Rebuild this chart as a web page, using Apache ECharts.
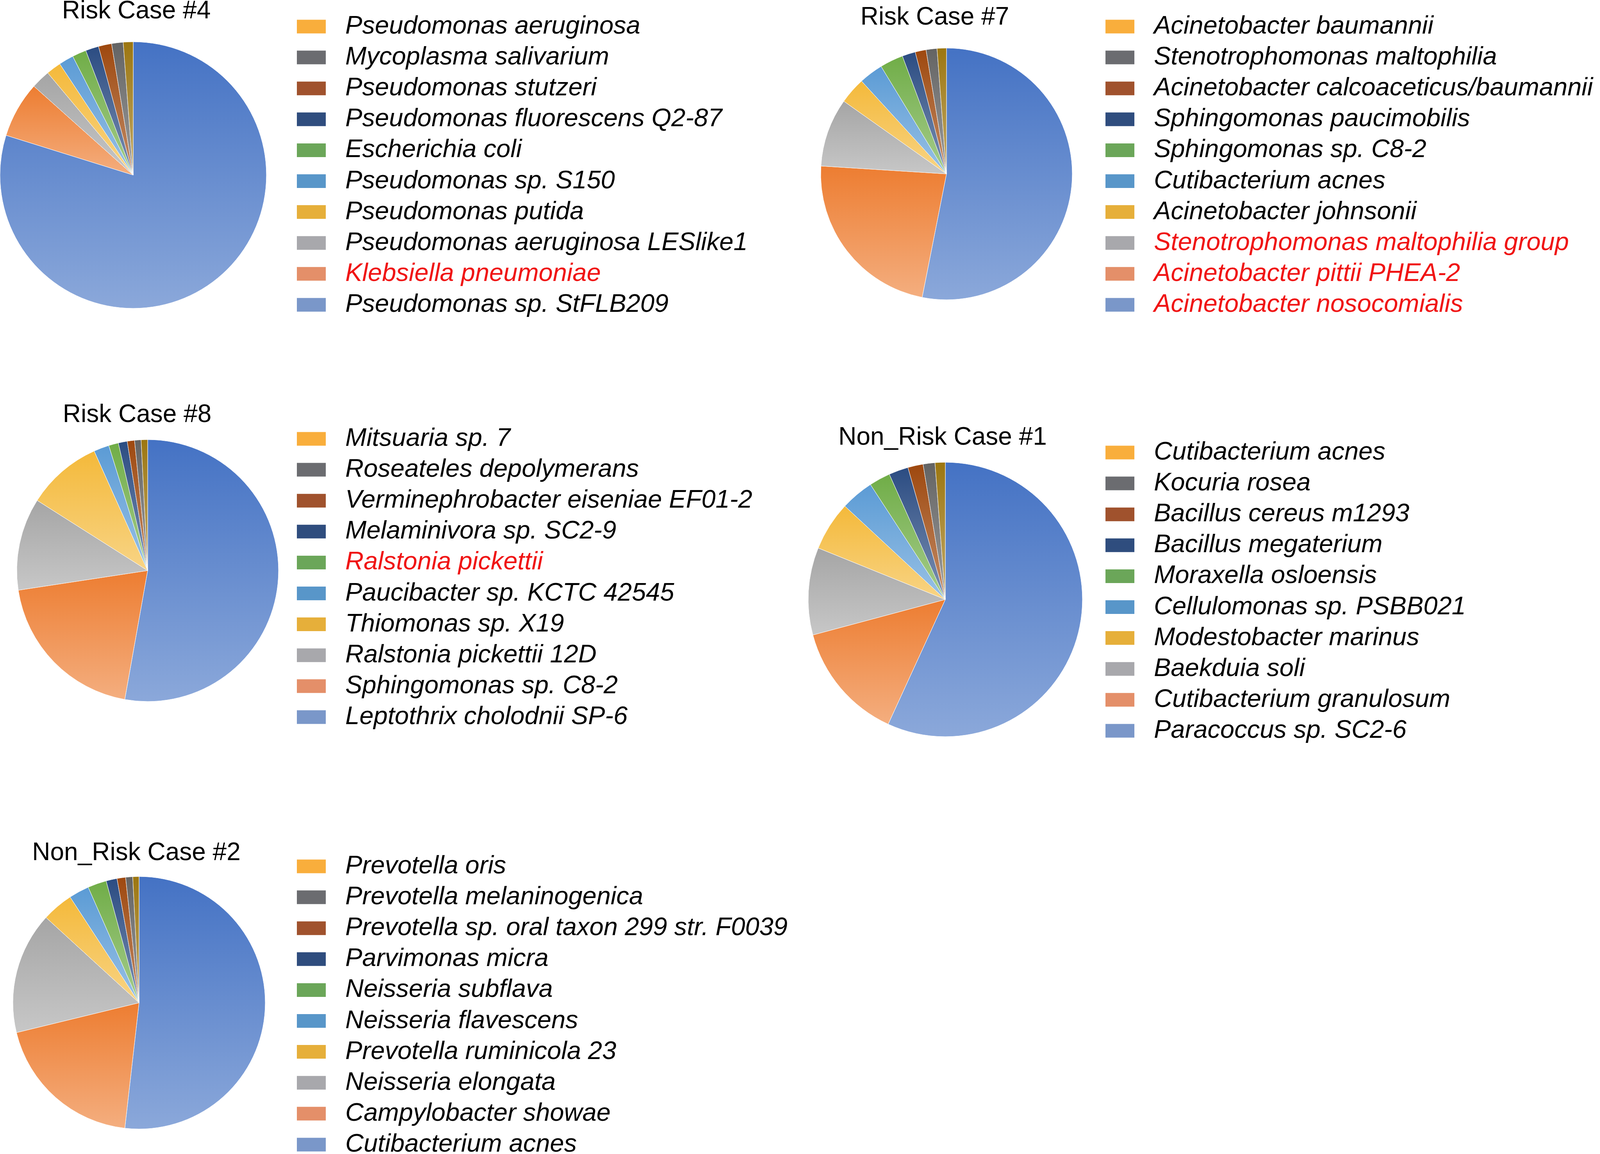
<!DOCTYPE html>
<html lang="en">
<head>
    <meta charset="UTF-8">
    <script type="text/javascript" src="https://cdn.jsdelivr.net/npm/echarts@6/dist/echarts.min.js"></script>
    <title>Risk / Non_Risk cases</title>
    <style type="text/css">
        html, body { margin: 0; padding: 0; background: #fff; }
        #pies { width: 4350px; height: 2953px; }
    </style>
</head>
<body>
    <div id="pies"></div>
    <script type="text/javascript">
        let titles = ['Risk Case #4', 'Risk Case #7', 'Risk Case #8', 'Non_Risk Case #1', 'Non_Risk Case #2']

        // species in legend order (top to bottom), share of reads in %
        let names4 = ['Pseudomonas aeruginosa', 'Mycoplasma salivarium', 'Pseudomonas stutzeri', 'Pseudomonas fluorescens Q2-87',
            'Escherichia coli', 'Pseudomonas sp. S150', 'Pseudomonas putida', 'Pseudomonas aeruginosa LESlike1',
            'Klebsiella pneumoniae', 'Pseudomonas sp. StFLB209']
        let vals4 = [1.2, 1.4, 1.6, 1.6, 1.7, 1.8, 1.8, 2.3, 6.8, 79.9]
        let red4 = ['Klebsiella pneumoniae']

        let names7 = ['Acinetobacter baumannii', 'Stenotrophomonas maltophilia', 'Acinetobacter calcoaceticus/baumannii complex',
            'Sphingomonas paucimobilis', 'Sphingomonas sp. C8-2', 'Cutibacterium acnes', 'Acinetobacter johnsonii',
            'Stenotrophomonas maltophilia group', 'Acinetobacter pittii PHEA-2', 'Acinetobacter nosocomialis']
        let vals7 = [1.2, 1.4, 1.4, 1.7, 3.0, 3.1, 3.4, 8.8, 22.9, 53.1]
        let red7 = ['Stenotrophomonas maltophilia group', 'Acinetobacter pittii PHEA-2', 'Acinetobacter nosocomialis']

        let names8 = ['Mitsuaria sp. 7', 'Roseateles depolymerans', 'Verminephrobacter eiseniae EF01-2', 'Melaminivora sp. SC2-9',
            'Ralstonia pickettii', 'Paucibacter sp. KCTC 42545', 'Thiomonas sp. X19', 'Ralstonia pickettii 12D',
            'Sphingomonas sp. C8-2', 'Leptothrix cholodnii SP-6']
        let vals8 = [0.8, 0.8, 0.9, 1.1, 1.2, 1.9, 9.3, 11.4, 19.8, 52.8]
        let red8 = ['Ralstonia pickettii']

        let namesN1 = ['Cutibacterium acnes', 'Kocuria rosea', 'Bacillus cereus m1293', 'Bacillus megaterium',
            'Moraxella osloensis', 'Cellulomonas sp. PSBB021', 'Modestobacter marinus', 'Baekduia soli',
            'Cutibacterium granulosum', 'Paracoccus sp. SC2-6']
        let valsN1 = [1.2, 1.4, 1.8, 2.3, 2.5, 3.9, 5.8, 10.3, 14.0, 56.9]
        let redN1 = []

        let namesN2 = ['Prevotella oris', 'Prevotella melaninogenica', 'Prevotella sp. oral taxon 299 str. F0039', 'Parvimonas micra',
            'Neisseria subflava', 'Neisseria flavescens', 'Prevotella ruminicola 23', 'Neisseria elongata',
            'Campylobacter showae', 'Cutibacterium acnes']
        let valsN2 = [0.8, 0.9, 1.1, 1.4, 2.4, 2.6, 4.0, 15.6, 19.4, 51.8]
        let redN2 = []

        // slice colours clockwise from 12 o'clock, legend key colours top to bottom
        let sliceColors = ['#4472C4', '#ED7D31', '#A5A5A5', '#F4B93A', '#5B9BD5', '#70AD47', '#2B4C82', '#9E480E', '#636363', '#9C7610']
        let keyColors = ['#F9AE3C', '#6B6C70', '#A0522D', '#2F4D7E', '#6BA659', '#5896C9', '#E6AF3A', '#A8A8AC', '#E48F69', '#7A97C9']

        let cases = [
            { names: names4, vals: vals4, red: red4 },
            { names: names7, vals: vals7, red: red7 },
            { names: names8, vals: vals8, red: red8 },
            { names: namesN1, vals: valsN1, red: redN1 },
            { names: namesN2, vals: valsN2, red: redN2 }
        ]

        // panel placement (px): title centre, pie centre + radius, legend left + first row centre
        let panels = [
            { tx: 349, ty: 30, cx: 341, cy: 448, r: 341, lx: 760, ly: 68 },
            { tx: 2393, ty: 46, cx: 2423, cy: 445, r: 322, lx: 2830, ly: 68 },
            { tx: 351, ty: 1063, cx: 378, cy: 1460, r: 335, lx: 760, ly: 1123 },
            { tx: 2413, ty: 1121, cx: 2420, cy: 1534, r: 351, lx: 2830, ly: 1158 },
            { tx: 349, ty: 2184, cx: 356, cy: 2566, r: 323, lx: 760, ly: 2217 }
        ]

        let rowStep = 79.1
        let rowHeight = 66

        function tint(hex, t) {
            let n = parseInt(hex.slice(1), 16)
            let r = (n >> 16) & 255, g = (n >> 8) & 255, b = n & 255
            r = Math.round(r + (255 - r) * t)
            g = Math.round(g + (255 - g) * t)
            b = Math.round(b + (255 - b) * t)
            return 'rgb(' + r + ',' + g + ',' + b + ')'
        }

        function sliceData(c) {
            let data = []
            let n = c.names.length
            // the pie runs from the last legend entry back to the first
            for (let i = n - 1; i >= 0; i--) {
                let col = sliceColors[n - 1 - i]
                data.push({
                    name: c.names[i],
                    value: c.vals[i],
                    itemStyle: {
                        color: {
                            type: 'linear', x: 0, y: 0, x2: 0, y2: 1,
                            colorStops: [{ offset: 0, color: col }, { offset: 1, color: tint(col, 0.38) }]
                        }
                    }
                })
            }
            return data
        }

        function legendData(c) {
            return c.names.map((name, i) => {
                let item = { name: name, itemStyle: { color: keyColors[i] } }
                if (c.red.indexOf(name) >= 0) {
                    item.textStyle = { color: '#f01414' }
                }
                return item
            })
        }

        let chartDom = document.getElementById('pies')
        let myChart = echarts.init(chartDom, null, { renderer: 'canvas' })

        let option = {
            backgroundColor: '#fff',
            animation: false,
            title: titles.map((t, k) => ({
                text: t,
                left: panels[k].tx,
                top: panels[k].ty - 33,
                textAlign: 'center',
                padding: 0,
                textStyle: {
                    fontFamily: 'Liberation Sans',
                    fontWeight: 'normal',
                    fontSize: 64,
                    color: '#000'
                }
            })),
            legend: cases.map((c, k) => ({
                orient: 'vertical',
                left: panels[k].lx,
                top: panels[k].ly - rowHeight / 2,
                height: 1000, // keep all ten rows in one column, even past the bottom edge
                padding: 0,
                itemWidth: 74,
                itemHeight: 35,
                itemGap: rowStep - rowHeight,
                icon: 'rect',
                itemStyle: { borderWidth: 0 },
                selectedMode: false,
                data: legendData(c),
                textStyle: {
                    fontFamily: 'Liberation Sans',
                    fontStyle: 'italic',
                    fontSize: 65,
                    lineHeight: rowHeight,
                    color: '#000',
                    padding: [0, 0, 0, 45]
                }
            })),
            series: cases.map((c, k) => ({
                type: 'pie',
                name: titles[k],
                center: [panels[k].cx, panels[k].cy],
                radius: panels[k].r,
                startAngle: 90,
                clockwise: true,
                label: { show: false },
                labelLine: { show: false },
                emphasis: { disabled: true },
                itemStyle: { borderColor: '#fff', borderWidth: 1 },
                data: sliceData(c)
            }))
        }

        option && myChart.setOption(option)
    </script>
</body>
</html>
